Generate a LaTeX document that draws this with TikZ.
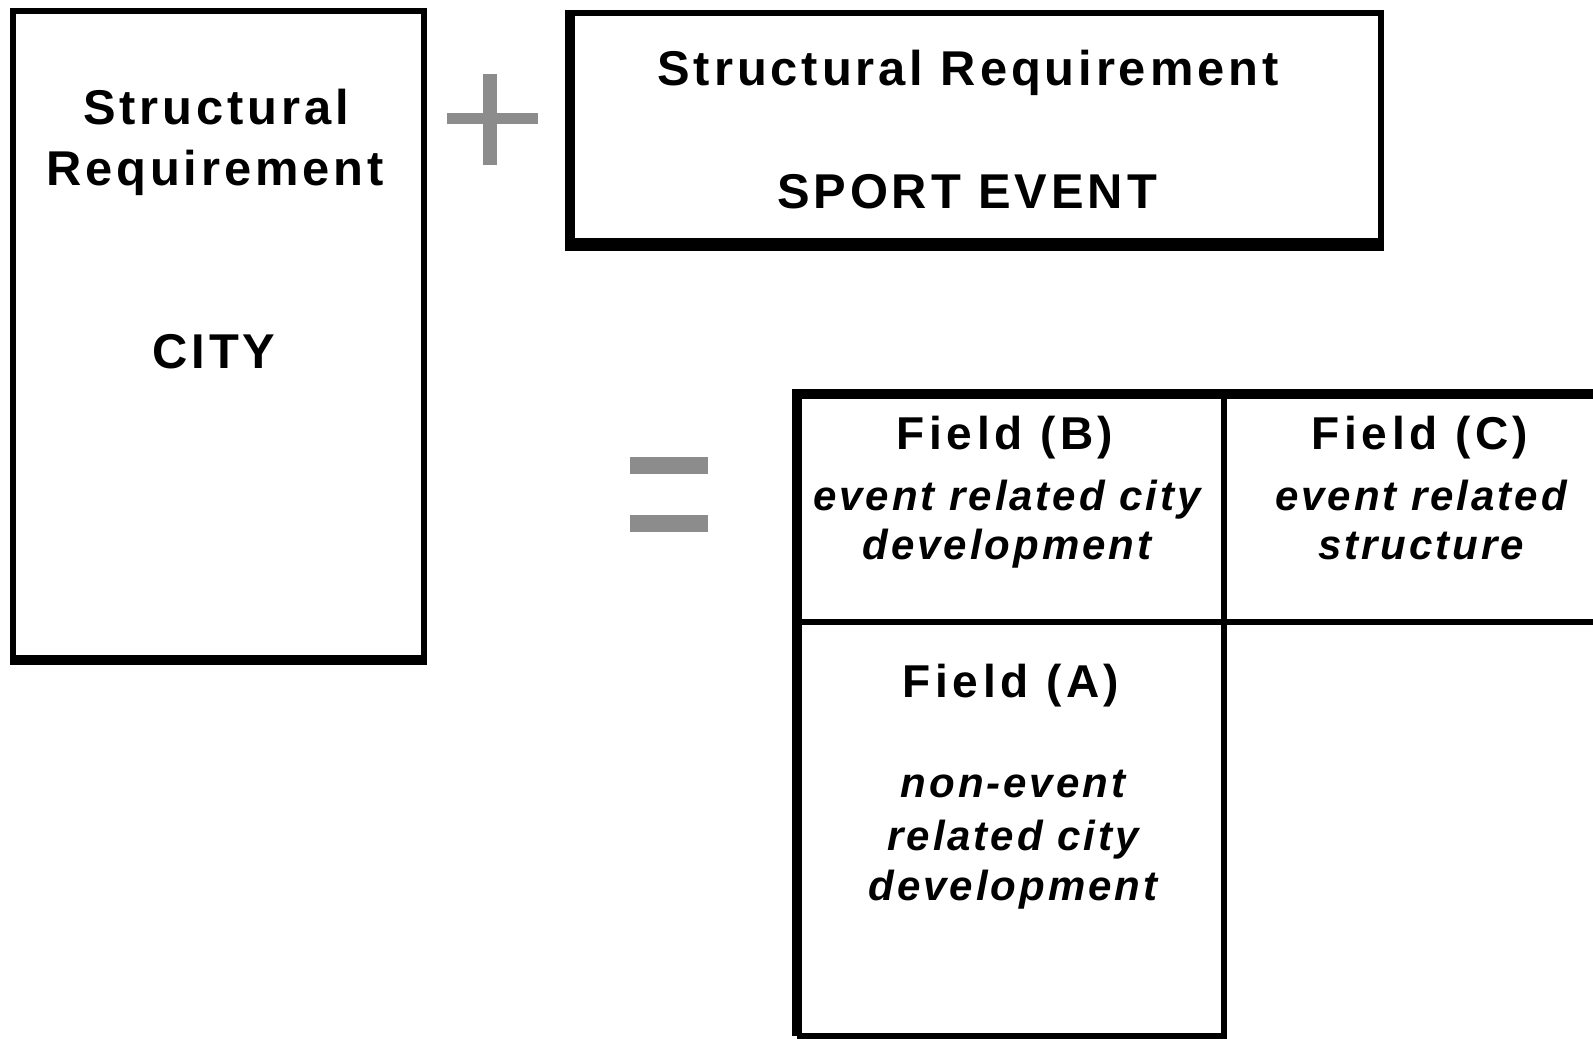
\documentclass[tikz,border=0pt]{standalone}
\usepackage{fontspec}
\setmainfont{Liberation Sans}
\newfontfamily\titlefont[LetterSpace=8]{Liberation Sans}
\newfontfamily\fieldfont[LetterSpace=10]{Liberation Sans}
\newfontfamily\notefont[LetterSpace=7]{Liberation Sans}

\begin{document}
\begin{tikzpicture}[x=0.1mm, y=-0.1mm,
    frame/.style={draw, line width=1.6pt},
    shadow/.style={draw, line width=2.8pt},
    bar/.style={fill=black!45},
    title/.style={anchor=base, inner sep=0pt, font=\titlefont\bfseries\fontsize{13.9}{16}\selectfont},
    field/.style={anchor=base, inner sep=0pt, font=\fieldfont\bfseries\fontsize{13.1}{15}\selectfont},
    note/.style={anchor=base, inner sep=0pt, font=\notefont\bfseries\itshape\fontsize{11.95}{14}\selectfont}]
  \useasboundingbox (0,0) rectangle (1593,1038);
  \clip (0,0) rectangle (1593,1038);

  % City box
  \draw[frame] (13,11) rectangle (424,659);
  \draw[shadow] (10,660) -- (427,660);
  \node[title] (cityone) at (216,124) {Structural};
  \node[title] (citytwo) at (215,185) {Requirement};
  \node[title] (city) at (214,368) {CITY};

  % Plus sign
  \fill[bar] (483,74) rectangle (497,165);
  \fill[bar] (447,113) rectangle (538,124);

  % Sport event box
  \draw[frame] (570,13) rectangle (1381,241);
  \draw[shadow] (570,10) -- (570,246) -- (1384,246);
  \node[title] (eventone) at (968,85) {Structural Requirement};
  \node[title] (event) at (967,208) {SPORT EVENT};

  % Equals sign
  \foreach \y in {457, 515}
  {
    \fill[bar] (630,\y) rectangle (708,\y+17);
  }

  % Field grid
  \draw[shadow] (797,1036) -- (797,394) -- (1650,394);
  \draw[frame] (1224,394) -- (1224,1040);
  \draw[frame] (797,622) -- (1650,622);
  \draw[frame] (797,1036) -- (1224,1036);

  \node[field] (fieldB) at (1005,449) {Field (B)};
  \node[note] (noteBone) at (1007,510) {event related city};
  \node[note] (noteBtwo) at (1007,559) {development};

  \node[field] (fieldC) at (1420,449) {Field (C)};
  \node[note] (noteCone) at (1421,510) {event related};
  \node[note] (noteCtwo) at (1421,559) {structure};

  \node[field] (fieldA) at (1011,697) {Field (A)};
  \node[note] (noteAone) at (1013,797) {non-event};
  \node[note] (noteAtwo) at (1013,850) {related city};
  \node[note] (noteAthree) at (1013,900) {development};
\end{tikzpicture}
\end{document}
